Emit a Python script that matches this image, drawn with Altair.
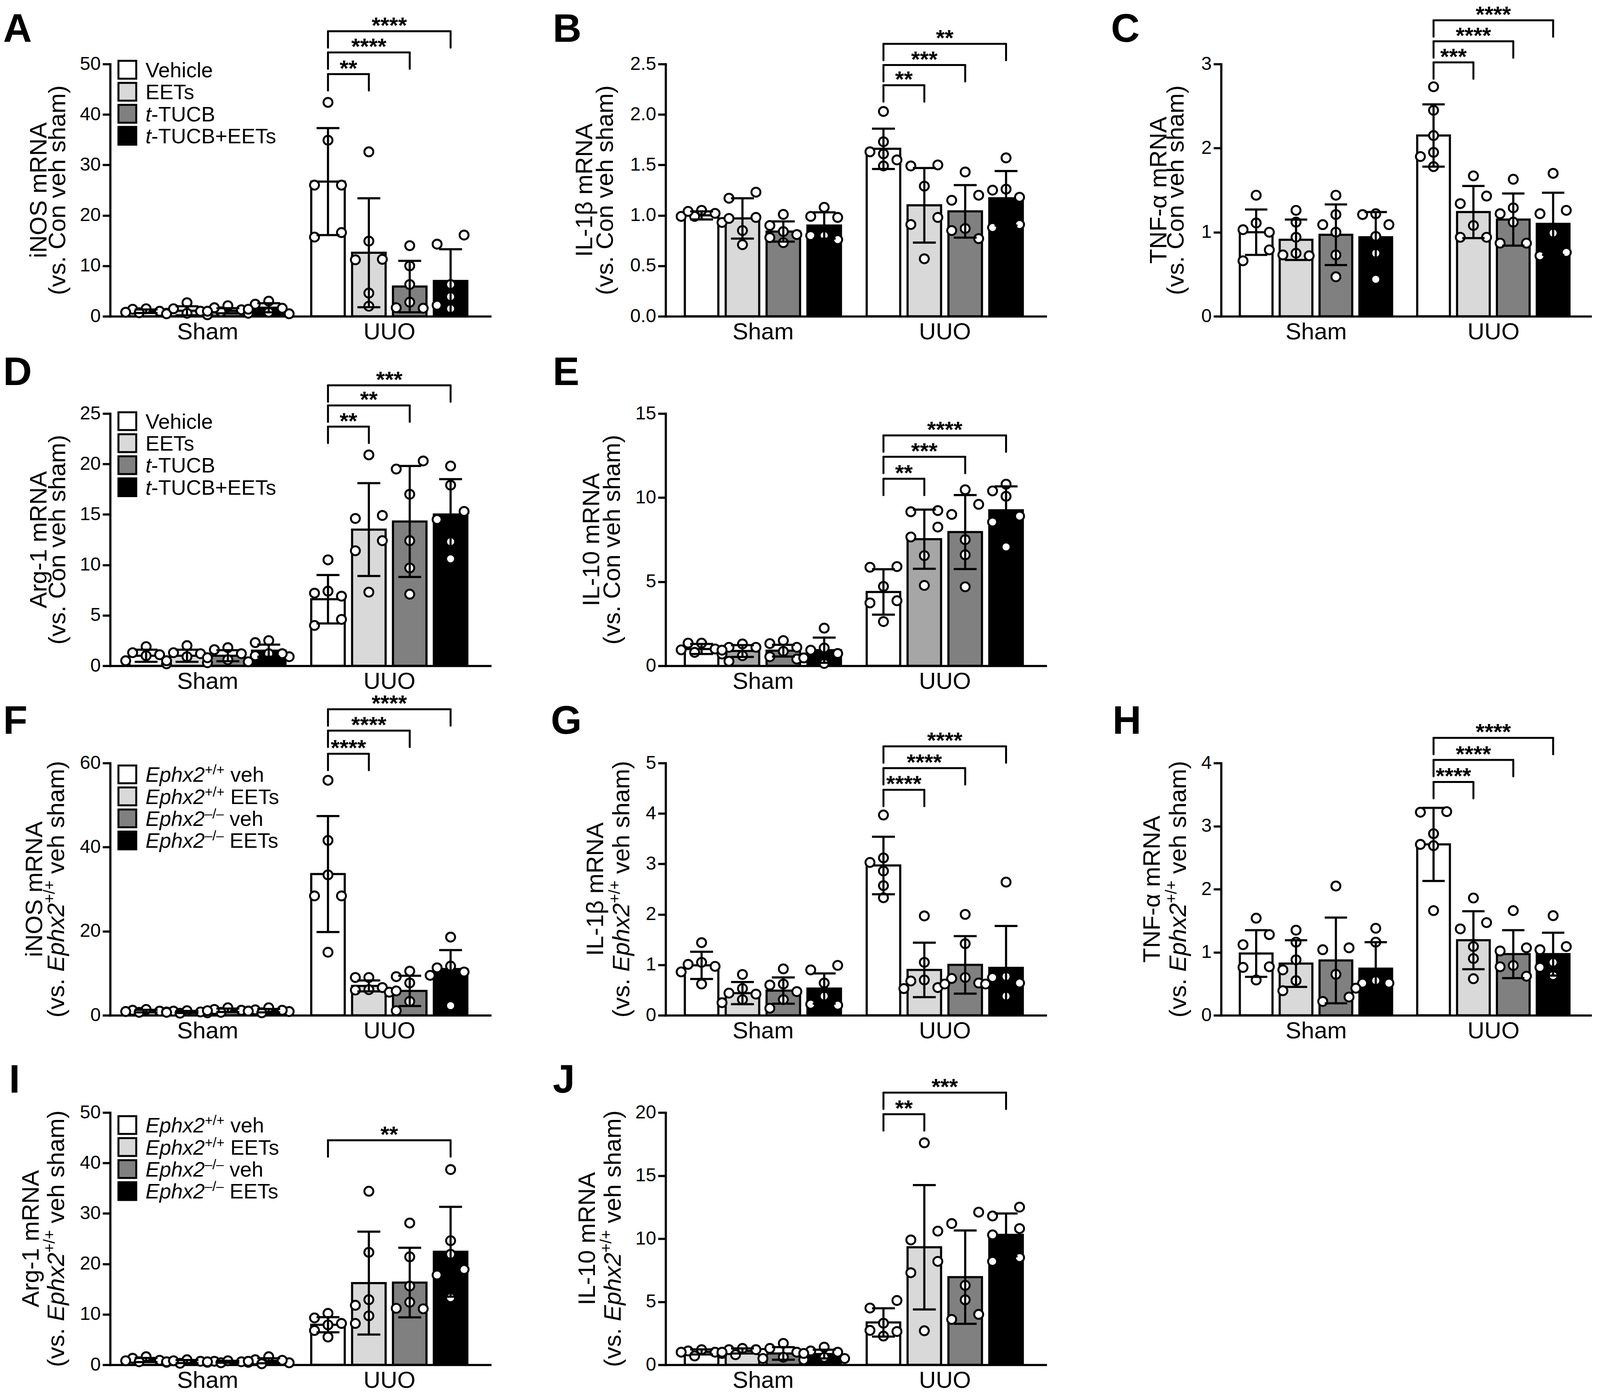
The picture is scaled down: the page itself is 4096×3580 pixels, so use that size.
import altair as alt
import pandas as pd

# ---------------- data ----------------
GROUPS = ["Sham", "UUO"]
TREAT_A = ["Vehicle", "EETs", "t-TUCB", "t-TUCB+EETs"]
TREAT_F = ["Ephx2+/+ veh", "Ephx2+/+ EETs", "Ephx2-/- veh", "Ephx2-/- EETs"]

FILLS = ["#ffffff", "#d9d9d9", "#808080", "#000000"]
FILLS_E = ["#ffffff", "#a6a6a6", "#808080", "#000000"]

# order of bars: Sham x4 treatments, UUO x4 treatments
A_MEAN = [1.0, 1.1, 1.1, 1.7, 26.7, 12.6, 5.9, 7.0]
A_SD = [0.35, 0.9, 0.5, 0.9, 10.6, 10.8, 5.1, 6.3]
A_PTS = [[0.6, 1.5, 1.4, 1.0, 0.8, 0.7], [0.5, 1.5, 2.7, 0.6, 0.3, 1.0],
         [0.9, 2.1, 1.7, 1.3, 0.6, 1.0], [0.8, 2.4, 1.4, 3.0, 0.5, 1.6],
         [42.4, 34.9, 26.0, 26.0, 15.7, 16.6], [32.6, 14.9, 11.2, 11.3, 4.6, 2.0],
         [14.0, 10.0, 6.3, 2.8, 1.7, 1.6], [16.1, 14.3, 6.3, 3.9, 2.2, 1.5]]
A_BRK = [(1, 48.0, "**"), (2, 52.3, "****"), (3, 56.5, "****")]

B_MEAN = [1.0, 0.97, 0.84, 0.90, 1.66, 1.10, 1.04, 1.17]
B_SD = [0.04, 0.2, 0.1, 0.13, 0.2, 0.37, 0.26, 0.27]
B_PTS = [[0.99, 1.05, 0.99, 1.02, 1.04, 0.93], [1.17, 1.23, 0.97, 0.98, 0.85, 0.71],
         [1.01, 0.84, 0.81, 0.90, 0.78, 0.73], [1.08, 0.98, 0.99, 0.80, 0.76, 0.80],
         [2.03, 1.73, 1.63, 1.61, 1.55, 1.49], [1.49, 1.50, 1.29, 0.98, 0.91, 0.57],
         [1.43, 1.20, 1.15, 0.87, 0.85, 0.77], [1.57, 1.26, 1.18, 1.25, 0.91, 0.88]]
B_BRK = [(1, 2.29, "**"), (2, 2.49, "***"), (3, 2.70, "**")]

C_MEAN = [1.0, 0.91, 0.97, 0.94, 2.15, 1.24, 1.15, 1.10]
C_SD = [0.27, 0.24, 0.36, 0.30, 0.37, 0.31, 0.31, 0.37]
C_PTS = [[1.44, 1.11, 1.03, 1.00, 0.79, 0.66], [1.26, 1.12, 0.94, 0.73, 0.75, 0.72],
         [1.44, 1.21, 1.09, 1.00, 0.73, 0.47], [1.21, 1.22, 1.09, 0.95, 0.75, 0.44],
         [2.73, 2.45, 2.15, 1.95, 1.90, 1.78], [1.67, 1.43, 1.34, 1.08, 0.94, 0.94],
         [1.63, 1.29, 1.22, 1.12, 0.87, 0.87], [1.70, 1.26, 1.22, 0.99, 0.72, 0.76]]
C_BRK = [(1, 3.02, "***"), (2, 3.27, "****"), (3, 3.52, "****")]

D_MEAN = [1.0, 1.0, 1.0, 1.5, 6.6, 13.5, 14.3, 15.0]
D_SD = [0.6, 0.6, 0.55, 0.6, 2.4, 4.6, 5.5, 3.5]
D_PTS = [[1.3, 1.9, 1.1, 0.5, 0.2, 1.0], [2.0, 1.3, 0.9, 0.5, 0.3, 1.2],
         [1.6, 1.2, 1.8, 0.6, 0.8, 0.4], [2.3, 2.5, 1.2, 1.0, 0.9, 1.2],
         [10.5, 7.4, 6.9, 7.2, 4.6, 4.0], [20.9, 14.9, 14.6, 12.4, 11.4, 7.3],
         [20.3, 19.5, 17.0, 12.4, 9.7, 7.1], [19.8, 17.9, 15.3, 14.5, 12.3, 10.6]]
D_BRK = [(1, 23.7, "**"), (2, 25.8, "**"), (3, 27.8, "***")]

E_MEAN = [1.0, 0.88, 0.9, 0.93, 4.39, 7.53, 7.95, 9.25]
E_SD = [0.3, 0.35, 0.35, 0.75, 1.35, 1.76, 2.2, 1.42]
E_PTS = [[1.35, 0.8, 1.35, 0.7, 1.0, 0.95], [1.3, 1.1, 0.93, 0.6, 0.27, 1.1],
         [1.32, 1.5, 1.1, 0.86, 0.54, 0.4], [2.24, 1.06, 0.93, 0.47, 0.14, 0.73],
         [5.86, 5.9, 4.72, 3.87, 3.74, 2.63], [9.16, 9.23, 8.25, 7.66, 6.55, 4.78],
         [10.47, 9.6, 9.0, 7.5, 6.6, 4.7], [10.4, 10.8, 10.08, 8.9, 8.55, 7.07]]
E_BRK = [(1, 11.12, "**"), (2, 12.43, "***"), (3, 13.7, "****")]

F_MEAN = [1.0, 0.8, 1.2, 1.1, 33.6, 7.0, 5.8, 11.0]
F_SD = [0.3, 0.25, 0.4, 0.4, 13.8, 1.3, 3.6, 4.5]
F_PTS = [[1.0, 1.4, 1.2, 0.7, 0.8, 0.9], [0.6, 1.0, 0.8, 0.5, 1.1, 0.7],
         [1.8, 1.2, 1.0, 0.7, 1.4, 1.1], [1.8, 1.3, 1.0, 0.6, 0.9, 1.2],
         [55.9, 41.6, 33.4, 28.4, 28.4, 15.0], [9.0, 9.0, 6.6, 6.1, 6.0, 5.5],
         [10.5, 9.2, 7.7, 5.8, 3.3, 1.1], [18.6, 11.3, 10.3, 11.7, 9.5, 2.3]]
F_BRK = [(1, 62.2, "****"), (2, 67.7, "****"), (3, 72.8, "****")]

G_MEAN = [0.99, 0.44, 0.49, 0.53, 2.97, 0.90, 1.00, 0.94]
G_SD = [0.27, 0.22, 0.26, 0.3, 0.57, 0.54, 0.57, 0.83]
G_PTS = [[1.44, 1.05, 0.97, 1.01, 0.86, 0.62], [0.81, 0.53, 0.44, 0.42, 0.31, 0.25],
         [0.92, 0.62, 0.60, 0.47, 0.31, 0.14], [0.99, 0.90, 0.64, 0.38, 0.20, 0.22],
         [3.97, 3.12, 3.03, 2.86, 2.57, 2.33], [1.97, 1.05, 0.70, 0.68, 0.55, 0.53],
         [2.00, 1.42, 0.75, 0.73, 0.62, 0.64], [2.64, 0.77, 0.64, 0.62, 0.38, 0.75]]
G_BRK = [(1, 4.47, "****"), (2, 4.90, "****"), (3, 5.33, "****")]

H_MEAN = [0.98, 0.82, 0.87, 0.74, 2.71, 1.19, 0.97, 0.97]
H_SD = [0.37, 0.37, 0.68, 0.42, 0.58, 0.46, 0.38, 0.34]
H_PTS = [[1.54, 1.28, 1.12, 0.77, 0.76, 0.56], [1.35, 1.16, 0.88, 0.72, 0.55, 0.39],
         [2.05, 1.07, 1.04, 0.65, 0.29, 0.22], [1.38, 1.16, 0.55, 0.51, 0.51, 0.43],
         [3.22, 3.23, 2.88, 2.71, 2.69, 1.66], [1.86, 1.47, 1.37, 1.09, 0.90, 0.58],
         [1.66, 1.07, 1.02, 0.79, 0.77, 0.62], [1.58, 1.09, 1.04, 0.84, 0.76, 0.63]]
H_BRK = [(1, 3.70, "****"), (2, 4.05, "****"), (3, 4.40, "****")]

I_MEAN = [0.95, 0.65, 0.6, 0.8, 7.94, 16.2, 16.3, 22.4]
I_SD = [0.4, 0.3, 0.2, 0.5, 1.5, 10.2, 6.9, 8.9]
I_PTS = [[1.6, 1.3, 0.8, 0.6, 0.9, 0.5], [1.0, 0.6, 0.7, 0.3, 0.5, 0.8],
         [0.7, 0.5, 0.6, 0.4, 0.8, 0.6], [1.6, 1.0, 0.4, 0.7, 0.2, 0.9],
         [10.2, 9.3, 8.2, 7.9, 6.8, 5.5], [34.4, 22.3, 12.9, 11.8, 9.7, 8.2],
         [28.1, 21.4, 15.6, 12.4, 11.1, 11.2], [38.7, 24.6, 21.9, 18.9, 17.8, 13.3]]
I_BRK = [(3, 44.5, "**")]

J_MEAN = [1.02, 1.1, 0.9, 0.85, 3.36, 9.32, 6.95, 10.3]
J_SD = [0.2, 0.2, 0.5, 0.35, 1.12, 4.93, 3.7, 1.7]
J_PTS = [[1.1, 1.2, 1.0, 0.9, 0.7, 1.0], [1.3, 1.2, 1.0, 0.9, 0.8, 1.2],
         [1.7, 1.3, 1.0, 0.5, 0.4, 0.6], [1.4, 1.1, 0.9, 0.6, 0.5, 1.0],
         [5.1, 4.5, 3.3, 2.73, 2.64, 2.28], [17.6, 10.6, 9.9, 8.2, 7.3, 2.7],
         [12.1, 11.2, 6.3, 5.15, 4.0, 3.6], [12.5, 11.8, 10.8, 10.3, 8.5, 8.2]]
J_BRK = [(1, 19.87, "**"), (3, 21.58, "***")]

# ---------------- layout / style ----------------
FONT = "Liberation Sans, Arial, Helvetica, sans-serif"
W12, W3, H = 973, 949, 646
HSP, VSP = 449, 249
X_DOM = [-0.88, 8.42]
UUO_SHIFT = 4.45
BAR_HALF, CAP_HALF = 0.41, 0.28
TITLE_FS, TITLE_SUP = 62, 40
LEG_FS, LEG_SUP = 53.5, 35
LETTER_FS = 102
STAR_FS = 58

CW = {' ': 278, '(': 333, ')': 333, '.': 278, '-': 333, '+': 584, '/': 278, '\u2013': 556,
      '\u03b2': 575, '\u03b1': 578}
for ch in '0123456789':
    CW[ch] = 556
for ch, w in zip('ABCDEFGHIJKLMNOPQRSTUVWXYZ',
                 [667, 667, 722, 722, 667, 611, 778, 722, 278, 500, 667, 556, 833, 722, 778, 667,
                  778, 722, 667, 611, 722, 667, 944, 667, 667, 611]):
    CW[ch] = w
for ch, w in zip('abcdefghijklmnopqrstuvwxyz',
                 [556, 556, 500, 556, 556, 278, 556, 556, 222, 222, 500, 222, 833, 556, 556, 556,
                  556, 333, 500, 278, 556, 500, 722, 500, 500, 500]):
    CW[ch] = w


def tw(s, fs):
    return sum(CW.get(c, 556) for c in s) / 1000.0 * fs


def swarm(vals, pos, ppx, ppy, d=30.0):
    """Scatter-dot arrangement: isolated points centred, pairs split left/right,
    larger clumps placed greedily without overlap."""
    cands = [0.0, -0.33, 0.33, -0.5, 0.5, -0.17, 0.17]
    order = sorted(range(len(vals)), key=lambda i: -vals[i])
    chains, cur = [], [order[0]]
    for i in order[1:]:
        if (vals[cur[-1]] - vals[i]) * ppy < d:
            cur.append(i)
        else:
            chains.append(cur)
            cur = [i]
    chains.append(cur)
    out = [pos] * len(vals)
    for ch in chains:
        if len(ch) == 1:
            out[ch[0]] = pos
            continue
        if len(ch) == 2:
            out[ch[0]] = pos + 0.33
            out[ch[1]] = pos - 0.33
            continue
        placed = []
        for i in ch:
            y = vals[i] * ppy
            best, bestd = cands[0], -1.0
            for c in cands:
                x = c * ppx
                dmin = min((((x - a) ** 2 + (y - b) ** 2) ** 0.5 for a, b in placed), default=1e9)
                if dmin >= d:
                    best = c
                    break
                if dmin > bestd:
                    best, bestd = c, dmin
            placed.append((best * ppx, y))
            out[i] = pos + best
    return out


def seg_rows(segs, fs, sfs, raise_, vertical, x0, y0):
    """Lay out styled text segments; vertical = rotated 270 (reads upward)."""
    widths = [tw(t, sfs if k == 's' else fs) for t, k in segs]
    rows = []
    cur = y0 + sum(widths) / 2.0 if vertical else x0
    for (t, k), w in zip(segs, widths):
        size = sfs if k == 's' else fs
        lead = tw(' ' * (len(t) - len(t.lstrip(' '))), size)
        if vertical:
            rows.append(dict(px=x0 - (raise_ if k == 's' else 0), py=cur - lead, text=t.strip(), kind=k))
            cur -= w
        else:
            rows.append(dict(px=cur + lead, py=y0 - (raise_ if k == 's' else 0), text=t.strip(), kind=k))
            cur += w
    return rows


def text_layer(rows, kind, **mk):
    sel = [r for r in rows if r['kind'] == kind]
    if not sel:
        return None
    df = pd.DataFrame(sel)
    return alt.Chart(df).mark_text(font=FONT, color='black', **mk).encode(
        x=alt.X('px:Q', scale=None, axis=None),
        y=alt.Y('py:Q', scale=None, axis=None),
        text='text:N')


LEG_A = [[("Vehicle", 'n')], [("EETs", 'n')], [("t", 'i'), ("-TUCB", 'n')],
         [("t", 'i'), ("-TUCB+EETs", 'n')]]
LEG_F = [[("Ephx2", 'i'), ("+/+", 's'), (" veh", 'n')], [("Ephx2", 'i'), ("+/+", 's'), (" EETs", 'n')],
         [("Ephx2", 'i'), ("\u2013/\u2013", 's'), (" veh", 'n')],
         [("Ephx2", 'i'), ("\u2013/\u2013", 's'), (" EETs", 'n')]]
SUB_CON = [("(vs. Con veh sham)", 'n')]
SUB_EPH = [("(vs. ", 'n'), ("Ephx2", 'i'), ("+/+", 's'), (" veh sham)", 'n')]

NOAX = alt.Axis(title=None)


def panel(letter, mean, sd, pts, brk, top, ticks, fmt, fills, t1, t2, tx, letter_pos,
          legend=None, leg_y0=0.0, W=W12):
    ppx = W / (X_DOM[1] - X_DOM[0])
    ppy = H / top
    xs = alt.Scale(domain=X_DOM, nice=False, zero=False)
    ys = alt.Scale(domain=[0, top], nice=False, zero=False)

    bars, prow = [], []
    for gi in range(2):
        for ti in range(4):
            k = gi * 4 + ti
            pos = ti + gi * UUO_SHIFT
            m, s = mean[k], sd[k]
            bars.append(dict(pos=pos, x0=pos - BAR_HALF, x1=pos + BAR_HALF, mean=m, lo=m - s,
                             hi=m + s, c0=pos - CAP_HALF, c1=pos + CAP_HALF, fill=fills[ti], zero=0.0))
            for v, jx in zip(pts[k], swarm(pts[k], pos, ppx, ppy)):
                prow.append(dict(jx=jx, val=v))
    bdf = pd.DataFrame(bars)
    pdf = pd.DataFrame(prow)

    yaxis = alt.Axis(values=ticks, format=fmt, title=None, grid=False, domainColor='black',
                     domainWidth=5.6, tickColor='black', tickWidth=5.6, tickSize=19.5,
                     labelFont=FONT, labelFontSize=48, labelColor='black', labelPadding=5,
                     domainCap='square', labelOverlap=False)
    xaxis = alt.Axis(values=[1.5, 1.5 + UUO_SHIFT], labelExpr="datum.value < 3 ? 'Sham' : 'UUO'",
                     ticks=False, title=None, grid=False, domainColor='black', domainWidth=5.6,
                     labelFont=FONT, labelFontSize=60, labelColor='black', labelPadding=11,
                     domainCap='square', labelFlush=False, labelOverlap=False)

    layers = []
    layers.append(alt.Chart(bdf).mark_bar(stroke='black', strokeWidth=5.5).encode(
        x=alt.X('x0:Q', scale=xs, axis=xaxis), x2='x1:Q',
        y=alt.Y('mean:Q', scale=ys, axis=yaxis), y2='zero:Q',
        fill=alt.Fill('fill:N', scale=None)))
    layers.append(alt.Chart(pdf).mark_point(shape='circle', filled=True, fill='white', stroke='black',
                                            strokeWidth=4.9, size=530, opacity=1).encode(
        x=alt.X('jx:Q', scale=xs, axis=NOAX), y=alt.Y('val:Q', scale=ys, axis=NOAX)))
    rule = dict(color='black', strokeWidth=5.5)
    layers.append(alt.Chart(bdf).mark_rule(**rule).encode(
        x=alt.X('pos:Q', scale=xs, axis=NOAX), y=alt.Y('lo:Q', scale=ys, axis=NOAX), y2='hi:Q'))
    for col in ('hi', 'lo'):
        layers.append(alt.Chart(bdf).mark_rule(**rule).encode(
            x=alt.X('c0:Q', scale=xs, axis=NOAX), x2='c1:Q', y=alt.Y(col + ':Q', scale=ys, axis=NOAX)))

    # significance brackets
    drop = 0.065 * top
    brows = []
    for ti, lvl, stars in brk:
        xa, xb = UUO_SHIFT, ti + UUO_SHIFT
        brows.append(dict(xa=xa, xb=xb, xm=(xa + xb) / 2, lvl=lvl, low=lvl - drop, stars=stars))
    kdf = pd.DataFrame(brows)
    br = dict(color='black', strokeWidth=5, strokeCap='round')
    layers.append(alt.Chart(kdf).mark_rule(**br).encode(
        x=alt.X('xa:Q', scale=xs, axis=NOAX), x2='xb:Q', y=alt.Y('lvl:Q', scale=ys, axis=NOAX)))
    for col in ('xa', 'xb'):
        layers.append(alt.Chart(kdf).mark_rule(**br).encode(
            x=alt.X(col + ':Q', scale=xs, axis=NOAX), y=alt.Y('low:Q', scale=ys, axis=NOAX), y2='lvl:Q'))
    layers.append(alt.Chart(kdf).mark_text(font=FONT, fontSize=STAR_FS, fontWeight='bold', color='black',
                                           baseline='alphabetic', align='center', dy=5).encode(
        x=alt.X('xm:Q', scale=xs, axis=NOAX), y=alt.Y('lvl:Q', scale=ys, axis=NOAX), text='stars:N'))

    # rotated y titles
    trows = seg_rows([(t1, 'n')], TITLE_FS, TITLE_SUP, 0, True, tx[0], H / 2)
    trows += seg_rows(t2, TITLE_FS, TITLE_SUP, 24, True, tx[1], H / 2)
    tkw = dict(angle=270, align='left', baseline='alphabetic')
    for kind, extra in (('n', dict(fontSize=TITLE_FS)), ('i', dict(fontSize=TITLE_FS, fontStyle='italic')),
                        ('s', dict(fontSize=TITLE_SUP))):
        lay = text_layer(trows, kind, **tkw, **extra)
        if lay is not None:
            layers.append(lay)

    # custom legend
    if legend is not None:
        step = 56.4
        sq, lrows = [], []
        for i, segs in enumerate(legend):
            cy = leg_y0 + i * step
            sq.append(dict(px=44.0, py=cy, fill=fills[i]))
            lrows += seg_rows(segs, LEG_FS, LEG_SUP, 19, False, 90.5, cy + 0.358 * LEG_FS)
        layers.append(alt.Chart(pd.DataFrame(sq)).mark_square(size=2080, stroke='black', strokeWidth=5,
                                                              opacity=1).encode(
            x=alt.X('px:Q', scale=None, axis=None), y=alt.Y('py:Q', scale=None, axis=None),
            fill=alt.Fill('fill:N', scale=None)))
        for kind, extra in (('n', dict(fontSize=LEG_FS)), ('i', dict(fontSize=LEG_FS, fontStyle='italic')),
                            ('s', dict(fontSize=LEG_SUP))):
            lay = text_layer(lrows, kind, align='left', baseline='alphabetic', **extra)
            if lay is not None:
                layers.append(lay)

    # panel letter
    layers.append(text_layer([dict(px=letter_pos[0], py=letter_pos[1], text=letter, kind='L')], 'L',
                             fontSize=LETTER_FS, fontWeight='bold', align='left', baseline='alphabetic'))

    return alt.layer(*layers).properties(width=W, height=H)


def blank(W):
    return alt.Chart(pd.DataFrame({'v': [0.0]})).mark_point(opacity=0).encode(
        x=alt.X('v:Q', axis=None), y=alt.Y('v:Q', axis=None)).properties(width=W, height=H)


pA = panel("A", A_MEAN, A_SD, A_PTS, A_BRK, 50, [0, 10, 20, 30, 40, 50], "d", FILLS,
           "iNOS mRNA", SUB_CON, (-163, -115), (-274, -57), LEG_A, 14.6)
pB = panel("B", B_MEAN, B_SD, B_PTS, B_BRK, 2.5, [0, 0.5, 1.0, 1.5, 2.0, 2.5], ".1f", FILLS,
           "IL-1\u03b2 mRNA", SUB_CON, (-188, -135), (-289, -57))
pC = panel("C", C_MEAN, C_SD, C_PTS, C_BRK, 3, [0, 1, 2, 3], "d", FILLS,
           "TNF-\u03b1 mRNA", SUB_CON, (-140, -96), (-282, -57), W=W3)
pD = panel("D", D_MEAN, D_SD, D_PTS, D_BRK, 25, [0, 5, 10, 15, 20, 25], "d", FILLS,
           "Arg-1 mRNA", SUB_CON, (-163, -115), (-274, -73), LEG_A, 19.5)
pE = panel("E", E_MEAN, E_SD, E_PTS, E_BRK, 15, [0, 5, 10, 15], "d", FILLS_E,
           "IL-10 mRNA", SUB_CON, (-170, -117), (-289, -73))
pF = panel("F", F_MEAN, F_SD, F_PTS, F_BRK, 60, [0, 20, 40, 60], "d", FILLS,
           "iNOS mRNA", SUB_EPH, (-174, -118), (-274, -75), LEG_F, 29.0)
pG = panel("G", G_MEAN, G_SD, G_PTS, G_BRK, 5, [0, 1, 2, 3, 4, 5], "d", FILLS,
           "IL-1\u03b2 mRNA", SUB_EPH, (-160, -93), (-294, -75))
pH = panel("H", H_MEAN, H_SD, H_PTS, H_BRK, 4, [0, 1, 2, 3, 4], "d", FILLS,
           "TNF-\u03b1 mRNA", SUB_EPH, (-157, -90), (-278, -75), W=W3)
pI = panel("I", I_MEAN, I_SD, I_PTS, I_BRK, 50, [0, 10, 20, 30, 40, 50], "d", FILLS,
           "Arg-1 mRNA", SUB_EPH, (-183, -118), (-259, -51), LEG_F, 32.0)
pJ = panel("J", J_MEAN, J_SD, J_PTS, J_BRK, 20, [0, 5, 10, 15, 20], "d", FILLS,
           "IL-10 mRNA", SUB_EPH, (-181, -115), (-289, -51))

chart = alt.concat(pA, pB, pC, pD, pE, blank(W3), pF, pG, pH, pI, pJ, blank(W3),
                   columns=3, spacing={"row": VSP, "column": HSP}, bounds='flush').properties(
    padding={"left": 0, "top": 3, "right": 0, "bottom": 0}
).configure_view(stroke=None)

chart.save("out.html", embed_options={"renderer": "svg", "actions": False})
